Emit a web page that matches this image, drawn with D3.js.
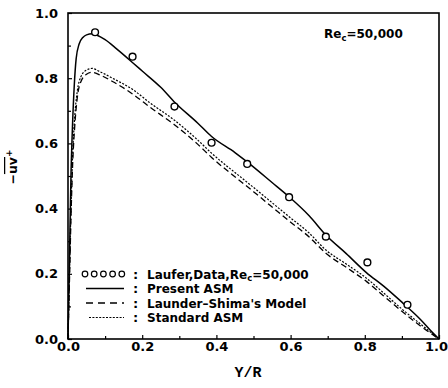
<!DOCTYPE html>
<html><head><meta charset="utf-8">
<script src="https://cdn.jsdelivr.net/npm/d3@7"></script>
<style>
html,body{margin:0;padding:0;background:#fff;}
svg{display:block;}
text{font-family:"DejaVu Sans",sans-serif;font-weight:bold;fill:#000;}
</style></head>
<body>
<svg id="chart" width="448" height="388"></svg>
<script>
// ---- data ----
const dataX = [0.073,0.174,0.287,0.387,0.483,0.596,0.695,0.807,0.915];
const dataY = [0.941,0.866,0.713,0.602,0.537,0.435,0.314,0.235,0.105];

const presentX = [0,0.004,0.008,0.012,0.017,0.022,0.03,0.04,0.05,0.065,0.08,0.1,0.131,0.176,0.2,0.25,0.286,0.35,0.387,0.45,0.482,0.55,0.596,0.65,0.695,0.75,0.805,0.85,0.9,0.95,0.984,1.0];
const presentY = [0,0.25,0.5,0.65,0.78,0.86,0.905,0.925,0.933,0.936,0.931,0.918,0.89,0.846,0.822,0.772,0.728,0.662,0.621,0.572,0.544,0.48,0.436,0.378,0.319,0.262,0.203,0.163,0.113,0.06,0.018,0];

const launderX = [0,0.004,0.008,0.012,0.018,0.025,0.035,0.05,0.065,0.086,0.12,0.176,0.22,0.286,0.35,0.387,0.464,0.5,0.596,0.65,0.695,0.75,0.805,0.85,0.9,0.95,1.0];
const launderY = [0,0.18,0.37,0.52,0.65,0.74,0.79,0.812,0.818,0.81,0.79,0.75,0.712,0.658,0.597,0.557,0.485,0.452,0.362,0.313,0.263,0.22,0.176,0.133,0.085,0.04,0];

const standardX = [0,0.004,0.008,0.012,0.018,0.025,0.035,0.05,0.065,0.086,0.12,0.176,0.22,0.286,0.35,0.387,0.464,0.5,0.596,0.65,0.695,0.75,0.805,0.85,0.9,0.95,1.0];
const standardY = [0,0.2,0.4,0.55,0.68,0.76,0.805,0.825,0.83,0.82,0.8,0.764,0.725,0.672,0.61,0.57,0.498,0.465,0.375,0.325,0.273,0.23,0.186,0.142,0.092,0.046,0];

const xTickValues = [0,0.2,0.4,0.6,0.8,1.0];
const yTickValues = [0,0.2,0.4,0.6,0.8,1.0];
const minorTicks = [0.1,0.3,0.5,0.7,0.9];
const legendLabels = ["Laufer,Data,Re","Present ASM","Launder\u2013Shima's Model","Standard ASM"];

// ---- chart ----
const svg = d3.select("#chart");
const x = d3.scaleLinear().domain([0,1]).range([68,439]);
const y = d3.scaleLinear().domain([0,1]).range([339,13]);

// axes
const fmt = d3.format(".1f");
const gx = svg.append("g").attr("transform","translate(0,339)")
  .call(d3.axisBottom(x).tickValues(xTickValues).tickFormat(fmt).tickSize(-4).tickPadding(3));
svg.append("g").attr("transform","translate(0,339)")
  .call(d3.axisBottom(x).tickValues(minorTicks).tickFormat("").tickSize(-3));
svg.append("g").attr("transform","translate(68,0)")
  .call(d3.axisLeft(y).tickValues(yTickValues).tickFormat(fmt).tickSize(-4).tickPadding(10));
svg.append("g").attr("transform","translate(68,0)")
  .call(d3.axisLeft(y).tickValues(minorTicks).tickFormat("").tickSize(-3));
svg.selectAll(".domain").remove();
svg.selectAll(".tick line").attr("stroke","#000").attr("stroke-width",1.2);
svg.selectAll(".tick text").style("font-size","13px").style("font-family","'DejaVu Sans',sans-serif").style("font-weight","bold");
// keep the last x label inside the picture
gx.selectAll(".tick text").filter(d=>d===1.0).attr("text-anchor","end").attr("x",8.5);

// frame
svg.append("rect").attr("x",x(0)).attr("y",y(1)).attr("width",x(1)-x(0)).attr("height",y(0)-y(1))
  .attr("fill","none").attr("stroke","#000").attr("stroke-width",1.6);

// curves
const line = d3.line().x(d=>x(d[0])).y(d=>y(d[1])).curve(d3.curveMonotoneX);
const series = [
  {xs:standardX, ys:standardY, dash:"2,1.5", w:1.2},
  {xs:launderX, ys:launderY, dash:"6,3.5", w:1.3},
  {xs:presentX, ys:presentY, dash:null, w:1.5}
];
series.forEach(s=>{
  const pts = s.xs.map((v,i)=>[v,s.ys[i]]);
  svg.append("path").datum(pts).attr("d",line).attr("fill","none")
    .attr("stroke","#000").attr("stroke-width",s.w)
    .attr("stroke-dasharray",s.dash);
});

// data circles
svg.append("g").selectAll("circle").data(dataX.map((v,i)=>[v,dataY[i]])).join("circle")
  .attr("cx",d=>x(d[0])).attr("cy",d=>y(d[1])).attr("r",3.4)
  .attr("fill","#fff").attr("stroke","#000").attr("stroke-width",1.4);

// legend
const lg = svg.append("g");
const rowY = [274,288.5,303,317.5];
[0,1,2,3,4].forEach(i=>{
  lg.append("circle").attr("cx",85+i*9.2).attr("cy",rowY[0]).attr("r",2.8).attr("fill","#fff").attr("stroke","#000").attr("stroke-width",1.2);
});
lg.append("line").attr("x1",86).attr("x2",124).attr("y1",rowY[1]).attr("y2",rowY[1]).attr("stroke","#000").attr("stroke-width",1.5);
lg.append("line").attr("x1",86).attr("x2",124).attr("y1",rowY[2]).attr("y2",rowY[2]).attr("stroke","#000").attr("stroke-width",1.3).attr("stroke-dasharray","7,5");
lg.append("line").attr("x1",89).attr("x2",124).attr("y1",rowY[3]).attr("y2",rowY[3]).attr("stroke","#000").attr("stroke-width",1.1).attr("stroke-dasharray","2,1.4");
rowY.forEach((ry,i)=>{
  lg.append("text").attr("x",133).attr("y",ry+4.5).style("font-size","13px").text(":");
  const t = lg.append("text").attr("x",147).attr("y",ry+4.5).style("font-size","12px");
  if(i===0){
    t.append("tspan").text("Laufer,Data,Re");
    t.append("tspan").attr("dy",2.5).style("font-size","8.5px").text("c");
    t.append("tspan").attr("dy",-2.5).text("=50,000");
  } else {
    t.text(legendLabels[i]);
  }
});

// annotation
const ann = svg.append("text").attr("x",324).attr("y",38).style("font-size","12px");
ann.append("tspan").text("Re");
ann.append("tspan").attr("dy",2.5).style("font-size","8.5px").text("c");
ann.append("tspan").attr("dy",-2.5).text("=50,000");

// axis titles
svg.append("text").attr("x",248).attr("y",377).attr("text-anchor","middle")
  .style("font-family","'Liberation Mono','DejaVu Sans Mono',monospace").style("font-size","15px").text("Y/R");

const yl = svg.append("g").attr("transform","translate(17,167) rotate(-90)");
const ylt = yl.append("text").attr("text-anchor","middle").style("font-size","12.5px");
ylt.append("tspan").text("\u2212");
ylt.append("tspan").style("text-decoration","overline").text("uv");
ylt.append("tspan").attr("dy",-5).style("font-size","9px").text("+");
</script>
</body></html>
